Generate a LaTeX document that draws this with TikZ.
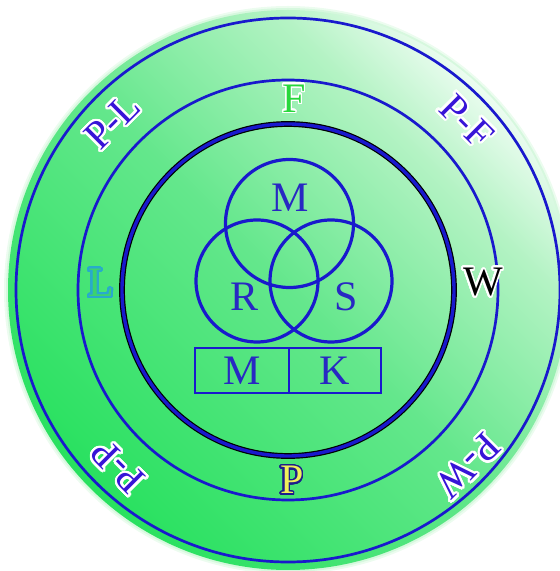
\documentclass[tikz,border=0pt]{standalone}
\usepackage{fontspec}
\setmainfont{Liberation Serif}
\usepackage{contour}
\contournumber{32}
\definecolor{lineblue}{RGB}{25,25,205}
\definecolor{txtblue}{RGB}{40,40,195}
\definecolor{lblblue}{RGB}{55,20,215}
\definecolor{gA}{RGB}{40,225,95}
\definecolor{gB}{RGB}{100,231,140}
\definecolor{gC}{RGB}{180,243,196}
\definecolor{gD}{RGB}{235,252,240}
\definecolor{grim}{RGB}{200,245,210}
\definecolor{fgreen}{RGB}{40,215,60}
\definecolor{lgreen}{RGB}{60,210,110}
\definecolor{lcyan}{RGB}{40,170,205}
\definecolor{pyellow}{RGB}{240,240,90}
\definecolor{pnavy}{RGB}{30,30,140}
\pgfdeclareverticalshading{diskshade}{100bp}{color(0bp)=(gA); color(25bp)=(gA); color(50bp)=(gB); color(67bp)=(gC); color(75bp)=(gD); color(100bp)=(gD)}
\tikzset{
  ring/.style={draw=lineblue, line width=2.7},
  venn/.style={circle, draw=lineblue, line width=3.2, inner sep=0},
  cell/.style={rectangle, draw=lineblue, line width=2.8, inner sep=0, text=txtblue, font=\fontsize{42}{42}\selectfont},
  vlabel/.style={text=txtblue, font=\fontsize{42}{42}\selectfont, inner sep=0},
  olabel/.style={font=\fontsize{42}{42}\selectfont, inner sep=0},
  plabel/.style={text=lblblue, font=\fontsize{40}{40}\selectfont, inner sep=0}
}
\begin{document}
\begin{tikzpicture}[x=1pt,y=1pt]
\useasboundingbox (0,0) rectangle (560,571);
\coordinate (C) at (288,281);
\begin{scope}
\clip (0,0) rectangle (560,571);
\fill[grim, opacity=0.35] (C) circle (284);
\fill[grim, opacity=0.6] (C) circle (282);
\shade[shading=diskshade, shading angle=-45] (C) circle (280);
\end{scope}
% rings
\draw[ring] (C) circle (272);
\draw[ring] (C) circle (210);
\draw[black, line width=5.8] (C) circle (166);
\draw[lineblue, line width=3.4] (C) circle (166);
% venn
\node[venn, minimum size=128] (vm) at (289.5,347.5) {};
\node[venn, minimum size=122] (vr) at (257,290) {};
\node[venn, minimum size=122] (vs) at (331,290) {};
\node[vlabel] (tm) at (290,373.5) {M};
\node[vlabel] (tr) at (245,274) {R};
\node[vlabel] (ts) at (346,274) {S};
% boxes
\node[cell, minimum width=94, minimum height=45] (bm) at (242,200.5) {M};
\node[cell, minimum width=92, minimum height=45] (bk) at (335,200.5) {K};
% ring labels
\contourlength{1.3pt}
\node[olabel, text=fgreen] (lf) at (294,472) {\contour{white}{F}};
\contourlength{2pt}
\node[olabel, text=lgreen] (ll) at (101,287) {\contour{lcyan}{L}};
\contourlength{1.8pt}
\node[olabel, text=black] (lw) at (483,288) {\contour{white}{W}};
\contourlength{1.5pt}
\node[olabel, text=pyellow] (lp) at (292,90) {\contour{pnavy}{P}};
% outer labels
\contourlength{2.2pt}
\node[plabel, rotate=45] (pl) at (113,449) {\contour{white}{P-L}};
\node[plabel, rotate=-45] (pf) at (466,449) {\contour{white}{P-F}};
\node[plabel, rotate=135] (pp) at (119,105) {\contour{white}{P-P}};
\node[plabel, rotate=-135] (pw) at (467,106) {\contour{white}{P-W}};
\end{tikzpicture}
\end{document}
